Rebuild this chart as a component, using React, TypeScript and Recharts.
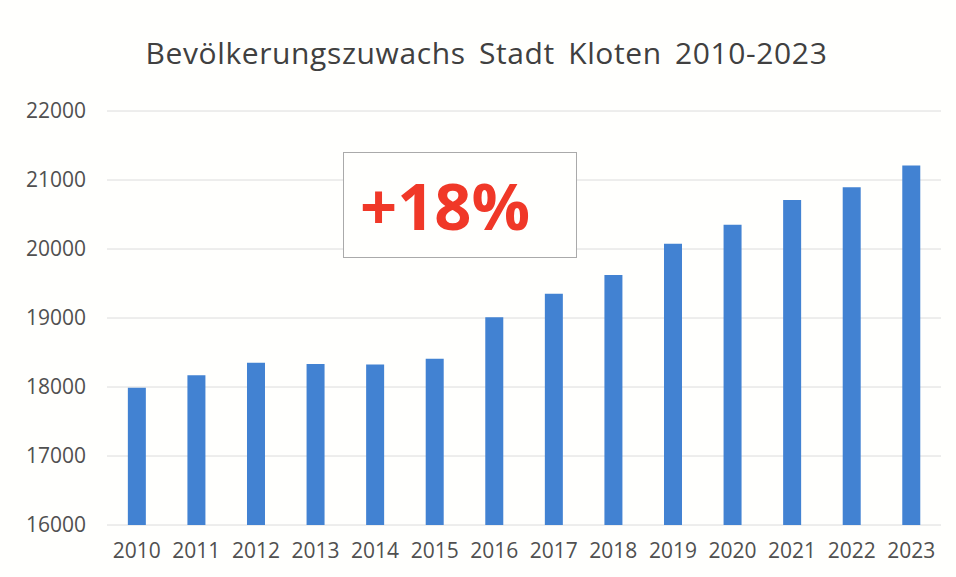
import { BarChart, Bar, XAxis, YAxis, CartesianGrid } from "recharts";

const years = ["2010", "2011", "2012", "2013", "2014", "2015", "2016", "2017", "2018", "2019", "2020", "2021", "2022", "2023"];
const population = [17990, 18170, 18350, 18335, 18325, 18410, 19010, 19350, 19625, 20075, 20350, 20710, 20895, 21210];
const yTicks = [16000, 17000, 18000, 19000, 20000, 21000, 22000];

const data = years.map((year, i) => ({ year, value: population[i] }));

const font = "'Open Sans', 'Noto Sans', sans-serif";
const tick = { fontSize: 21, fill: "#505050", fontFamily: font };

export default function App() {
  return (
    <div style={{ position: "absolute", left: 0, top: 0, width: 956, height: 577, background: "#fffffd" }}>
      <div
        style={{
          position: "absolute",
          left: 0,
          width: 973,
          top: 32,
          textAlign: "center",
          fontFamily: font,
          fontSize: 30,
          color: "#404040",
          wordSpacing: 5,
          letterSpacing: 0.6,
        }}
      >
        Bevölkerungszuwachs Stadt Kloten 2010-2023
      </div>
      <BarChart width={956} height={577} data={data} margin={{ top: 111, right: 15, bottom: 22, left: 0 }} barCategoryGap="35%">
        <CartesianGrid vertical={false} stroke="#dcdcdc" />
        <XAxis dataKey="year" axisLine={false} tickLine={false} tickSize={0} tickMargin={18} tick={tick} interval={0} />
        <YAxis
          width={107}
          domain={[16000, 22000]}
          ticks={yTicks}
          axisLine={false}
          tickLine={false}
          tickSize={0}
          tickMargin={21}
          tick={tick}
          allowDataOverflow
        />
        <Bar dataKey="value" fill="#4282d2" isAnimationActive={false} />
      </BarChart>
      <div
        style={{
          position: "absolute",
          left: 343,
          top: 152,
          width: 234,
          height: 106,
          border: "1.5px solid #aaaaaa",
          background: "#fffffd",
          display: "flex",
          alignItems: "center",
          justifyContent: "center",
          fontFamily: font,
          fontWeight: 700,
          fontSize: 65,
          color: "#f03828",
          boxSizing: "border-box",
          paddingRight: 30,
        }}
      >
        +18%
      </div>
    </div>
  );
}
